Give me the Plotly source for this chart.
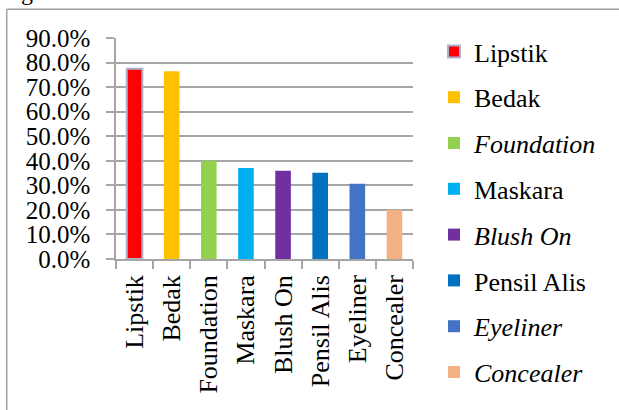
import plotly.graph_objects as go

categories = ["Lipstik", "Bedak", "Foundation", "Maskara", "Blush On", "Pensil Alis", "Eyeliner", "Concealer"]
legend_names = ["Lipstik", "Bedak", "<i>Foundation</i>", "Maskara", "<i>Blush On</i>", "Pensil Alis", "<i>Eyeliner</i>", "<i>Concealer</i>"]
values = [0.775, 0.765, 0.400, 0.371, 0.359, 0.351, 0.306, 0.200]
colors = ["#FF0000", "#FFC000", "#92D050", "#00B0F0", "#7030A0", "#0070C0", "#4472C4", "#F4B183"]
tick_vals = [0, 0.1, 0.2, 0.3, 0.4, 0.5, 0.6, 0.7, 0.8, 0.9]

FONT = "'Liberation Serif', 'Times New Roman', serif"

fig = go.Figure()
for i, (cat, nm, v, c) in enumerate(zip(categories, legend_names, values, colors)):
    fig.add_trace(go.Bar(
        x=[cat], y=[v], name=nm, legendgroup=cat,
        marker=dict(color=c,
                    line=dict(color="#A9B4CC" if i == 0 else c, width=2 if i == 0 else 0)),
        width=0.42,
    ))

L, R, T, B = 116, 206, 38, 151
pw = 619 - L - R
ph = 410 - T - B

def px_x(x):
    return (x - L) / pw

def px_y(y):
    return (410 - B - y) / ph

fig.update_layout(
    width=619, height=410,
    margin=dict(l=L, r=R, t=T, b=B, pad=0, autoexpand=False),
    paper_bgcolor="white", plot_bgcolor="white",
    barmode="overlay",
    font=dict(family=FONT, size=25, color="black"),
    showlegend=True,
    legend=dict(x=px_x(434), y=px_y(28), xanchor="left", yanchor="top",
                font=dict(family=FONT, size=26, color="black"),
                tracegroupgap=9, bgcolor="rgba(0,0,0,0)", maxheight=400),
    xaxis=dict(categoryorder="array", categoryarray=categories, automargin=False,
               tickangle=-90, showline=True, linecolor="#A6A6A6", linewidth=1.5,
               ticks="outside", tickson="boundaries", ticklen=8, tickcolor="#A6A6A6",
               tickwidth=1.5, showgrid=False, ticklabelstandoff=4,
               tickfont=dict(family=FONT, size=26, color="black")),
    yaxis=dict(range=[0, 0.9], tickvals=tick_vals, tickformat=".1%", automargin=False,
               showline=True, linecolor="#A6A6A6", linewidth=1.5,
               ticks="outside", ticklen=8, tickcolor="#A6A6A6", tickwidth=1.5,
               showgrid=True, gridcolor="#A6A6A6", gridwidth=1.5, zeroline=False,
               ticklabelstandoff=11,
               tickfont=dict(family=FONT, size=25, color="black")),
    shapes=[
        dict(type="line", xref="paper", yref="paper",
             x0=px_x(6.7), x1=px_x(625), y0=px_y(9.3), y1=px_y(9.3),
             line=dict(color="#A0A0A0", width=1.5)),
        dict(type="line", xref="paper", yref="paper",
             x0=px_x(6.7), x1=px_x(6.7), y0=px_y(9.3), y1=px_y(420),
             line=dict(color="#A0A0A0", width=1.5)),
    ],
    annotations=[
        dict(text="g", xref="paper", yref="paper", x=px_x(19), y=px_y(7),
             xanchor="left", yanchor="bottom", showarrow=False,
             font=dict(family=FONT, size=24, color="black")),
    ],
)

fig.write_html("out.html", config={"displayModeBar": False},
               post_script="document.body.style.margin='0px';")
